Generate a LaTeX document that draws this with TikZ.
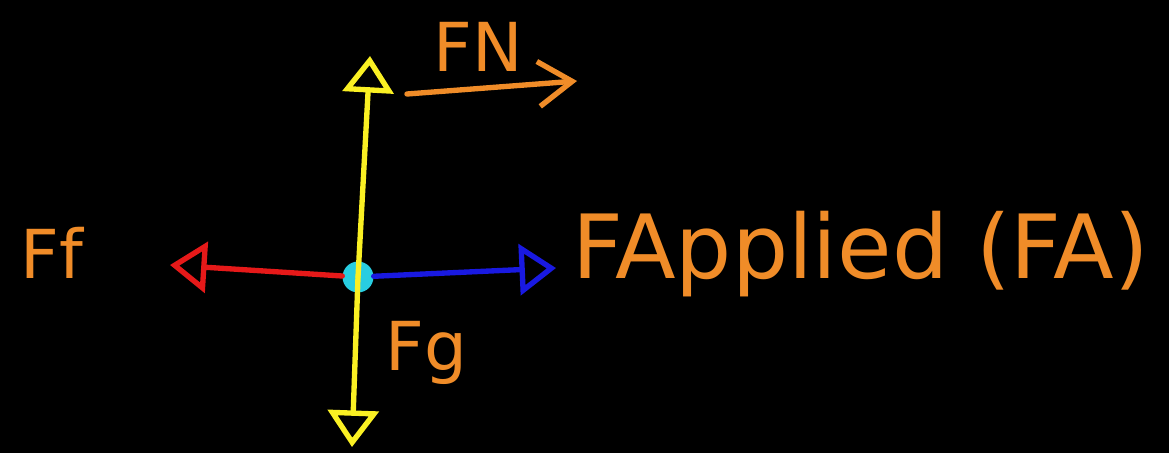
\documentclass[tikz,border=0pt]{standalone}
\usepackage{fontspec}
\setmainfont{DejaVu Sans}
\usetikzlibrary{arrows.meta}

\definecolor{penorange}{RGB}{240,140,40}
\definecolor{penyellow}{RGB}{250,240,35}
\definecolor{penred}{RGB}{230,25,25}
\definecolor{penblue}{RGB}{25,25,225}
\definecolor{pencyan}{RGB}{40,205,225}

\begin{document}
\begin{tikzpicture}[
				x = 0.025cm, y = -0.025cm, % one unit per pixel
				> = {Triangle[open, length=26pt, width=36pt]}, % open head
				force/.style = {->, line width=3.8pt, line cap=round, line join=round},
				lbl/.style = {text=penorange, anchor=base west, inner sep=0pt,
					font=\fontsize{48}{50}\selectfont},
				]
				
				\fill[black] (0,0) rectangle (1169,453);
				
				\node (dot) at (358,277) [circle, fill=pencyan, inner sep=0pt, minimum size=22pt] {};
				\coordinate (up) at (370,56);
				\coordinate (down) at (352,447);
				\coordinate (left) at (170,265);
				\coordinate (right) at (556,268);
				
				\draw[force, penyellow] (dot.center) -- (up);
				\draw[force, penyellow] (dot.center) -- (down);
				\draw[force, penred] (dot) -- (left);
				\draw[force, penblue] (dot) -- (right);
				
				\node (fn) at (433,72) [lbl] {FN};
				\node (ff) at (20,278) [lbl] {Ff};
				\node (fg) at (385,370) [lbl] {Fg};
				\node (fa) at (572,278) [lbl, font=\fontsize{63}{65}\selectfont] {FApplied (FA)};
				
				\coordinate (fnstart) at (407,94);
				\coordinate (fnend) at (577,81);
				\draw[penorange, line width=3.8pt, line cap=round, line join=round,
					-{Straight Barb[length=24pt, width=32pt]}] (fnstart) -- (fnend);
				
			\end{tikzpicture}
\end{document}
